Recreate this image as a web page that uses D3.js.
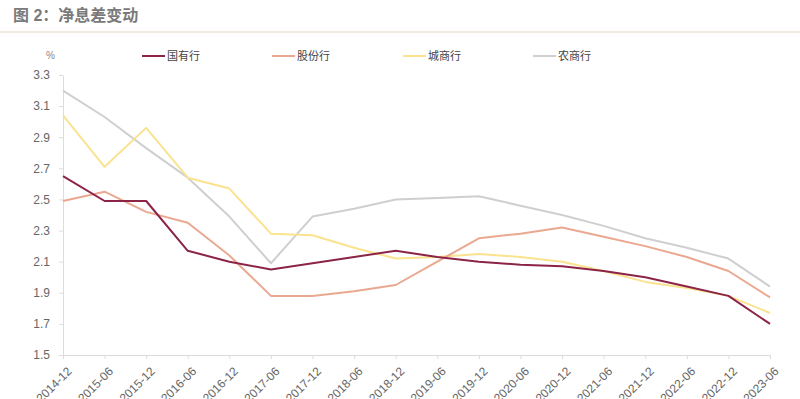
<!DOCTYPE html>
<html>
<head>
<meta charset="utf-8">
<script src="https://cdn.jsdelivr.net/npm/d3@7"></script>
<style>
  body { margin: 0; background: #fff; }
  svg { display: block; font-family: "Liberation Sans", Arial, "Noto Sans CJK SC", sans-serif; }
</style>
</head>
<body>
<svg id="chart" width="800" height="399"></svg>
<script>
// periods
const periods = ['2014-12','2015-06','2015-12','2016-06','2016-12','2017-06','2017-12','2018-06','2018-12',
  '2019-06','2019-12','2020-06','2020-12','2021-06','2021-12','2022-06','2022-12','2023-06'];

// net interest margin, %
const stateOwned = [2.65,2.49,2.49,2.17,2.10,2.05,2.09,2.13,2.17,2.13,2.10,2.08,2.07,2.04,2.00,1.94,1.88,1.70];
const jointStock = [2.49,2.55,2.42,2.35,2.14,1.88,1.88,1.91,1.95,2.10,2.25,2.28,2.32,2.26,2.20,2.13,2.04,1.87];
const cityBanks  = [3.04,2.71,2.96,2.64,2.57,2.28,2.27,2.19,2.12,2.13,2.15,2.13,2.10,2.04,1.97,1.93,1.88,1.77];
const ruralBanks = [3.20,3.03,2.83,2.64,2.39,2.09,2.39,2.44,2.50,2.51,2.52,2.46,2.40,2.33,2.25,2.19,2.12,1.94];

const seriesNames = ['国有行','股份行','城商行','农商行'];
const seriesColors = ['#8c2448','#eaa891','#fae28f','#cfcfcf'];
const yTicks = [1.5,1.7,1.9,2.1,2.3,2.5,2.7,2.9,3.1,3.3];

const series = [stateOwned, jointStock, cityBanks, ruralBanks].map((v, i) => ({
  name: seriesNames[i], color: seriesColors[i], values: v
}));

const svg = d3.select('#chart');
const mLeft = 63, mRight = 770, mTop = 75, mBottom = 355;

// title
svg.append('text')
  .attr('x', 13).attr('y', 21)
  .attr('fill', '#7a7a7a')
  .style('font-size', '16px').style('font-weight', 'bold')
  .text('图 2：净息差变动');
svg.append('line')
  .attr('x1', 0).attr('x2', 800).attr('y1', 32).attr('y2', 32)
  .attr('stroke', '#ebe4d2').attr('stroke-width', 1.5);

const x = d3.scalePoint().domain(periods).range([mLeft, mRight]);
const y = d3.scaleLinear().domain([1.5, 3.3]).range([mBottom, mTop]);

// y axis
const yAxis = svg.append('g')
  .attr('transform', `translate(${mLeft},0)`)
  .call(d3.axisLeft(y).tickValues(yTicks).tickFormat(d3.format('.1f')).tickSize(4).tickSizeOuter(0));
yAxis.select('.domain').attr('stroke', '#dcdcdc');
yAxis.selectAll('.tick line').attr('stroke', '#dcdcdc');
yAxis.selectAll('.tick text').attr('fill', '#666').attr('x', -13).style('font-size', '12px');

svg.append('text')
  .attr('x', 55).attr('y', 59)
  .attr('text-anchor', 'end')
  .attr('fill', '#888').style('font-size', '10px')
  .text('%');

// x axis
const xAxis = svg.append('g')
  .attr('transform', `translate(0,${mBottom})`)
  .call(d3.axisBottom(x).tickSize(4).tickSizeOuter(0));
xAxis.select('.domain').attr('stroke', '#dcdcdc');
xAxis.selectAll('.tick line').attr('stroke', '#dcdcdc');
xAxis.selectAll('.tick text')
  .attr('fill', '#666').style('font-size', '12px')
  .attr('text-anchor', 'end')
  .attr('x', 0).attr('y', 0).attr('dy', '0.35em')
  .attr('transform', 'translate(6,14) rotate(-45)');

// lines
const line = d3.line().x((d, i) => x(periods[i])).y(d => y(d));
svg.append('g').selectAll('path')
  .data(series.slice().reverse())
  .enter().append('path')
  .attr('d', d => line(d.values))
  .attr('fill', 'none')
  .attr('stroke', d => d.color)
  .attr('stroke-width', 2)
  .attr('stroke-linejoin', 'round');

// legend
const legendX = [142, 272, 403, 533];
const legend = svg.selectAll('.legend')
  .data(series)
  .enter().append('g')
  .attr('class', 'legend')
  .attr('transform', (d, i) => `translate(${legendX[i]},56)`);
legend.append('line')
  .attr('x1', 0).attr('x2', 23)
  .attr('stroke', d => d.color).attr('stroke-width', 2);
legend.append('text')
  .attr('x', 25).attr('dy', '0.35em')
  .attr('fill', '#444').style('font-size', '11px')
  .text(d => d.name);
</script>
</body>
</html>
